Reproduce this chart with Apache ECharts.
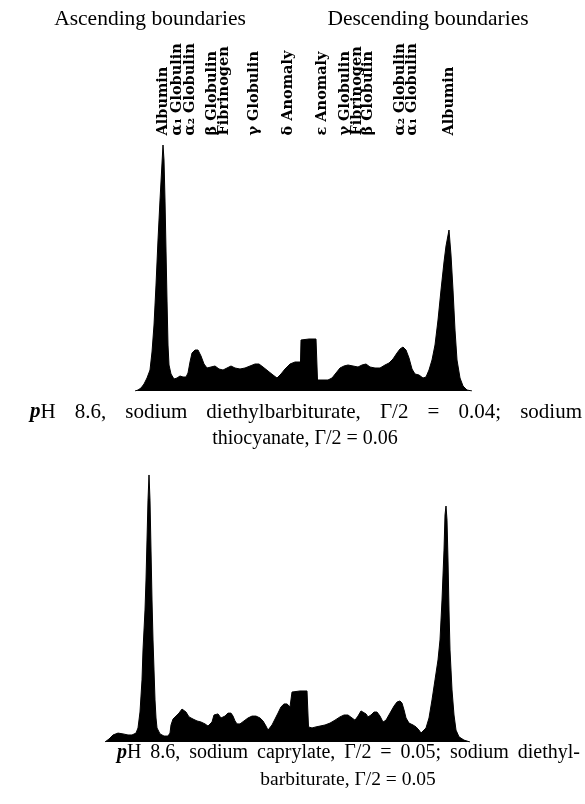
<!DOCTYPE html>
<html><head><meta charset="utf-8">
<script src="https://cdn.jsdelivr.net/npm/echarts@6/dist/echarts.min.js"></script>
<style>html,body{margin:0;padding:0;background:#fff}#c{width:585px;height:804px}</style>
</head><body><div id="c"></div>
<script>
// ---- data ----
const headers = ['Ascending boundaries', 'Descending boundaries'];
const boundaryLabels = ['Albumin', 'α₁ Globulin', 'α₂ Globulin', 'β Globulin', 'Fibrinogen', 'γ Globulin', 'δ Anomaly',
  'ε Anomaly', 'γ Globulin', 'Fibrinogen', 'β Globulin', 'α₂ Globulin', 'α₁ Globulin', 'Albumin'];
const boundaryPositions = [63, 77, 90, 112, 124, 154, 188, 222, 245, 257, 268, 300, 312, 349];

// pattern 1: distance along cell and refractive-index gradient height
const dist1 = [35,38,41,44,47,50,52,54,56,58,60,62,63,64,65,66,67,68,69,71,74,77,80,83,86,88,90,92,95,98,101,104,107,111,115,119,123,127,131,135,140,145,150,155,159,163,168,173,177,181,185,190,195,200.5,201,203,209,216,217,217.5,222,228,232,236,240,244,248,253,258,262,266,270,275,280,285,289,293,297,300,303,306,309,312,315,319,323,326,329,332,335,338,341,344,346,349,351,353,355,357,360,363,367,372];
const grad1 = [0,0.4,1.2,2.8,5.2,8.4,15.6,26.4,42.4,60.4,76.4,91.2,98.4,92.4,76.4,56.4,36.4,18.4,10.4,6.8,4.8,5.2,6,5.6,5.6,7.2,11.6,15.2,16.4,16.4,14,10.8,9.2,9.6,10,8.8,8.4,9.2,10,9.2,8.8,9.2,10,10.8,10.8,9.6,8,6.4,5.2,6.8,8.8,10.8,11.6,11.6,20.4,20.8,20.8,20.8,20.4,4.4,4.4,4.4,5.2,7.2,9.2,10,10.4,10,9.6,10.4,10.8,9.6,9.2,9.2,10.4,11.2,12.8,15.2,16.8,17.6,16.4,13.2,8.8,6.8,6.4,5.2,5.6,8.4,12.4,18.4,28.4,40.4,51.6,58,64.4,54.4,40.4,24.4,12.4,5.2,2,0.4,0];

// pattern 2
const dist2 = [5,9,13,18,23,28,32,36,38,40,42,43,45,46,47,48,49,50,51,52,53,54,55,56,57,60,64,68,70,71,73,76,79,82,84,86,89,93,97,101,105,108,110,112,114,116,118,121,123,125,128,131,133,135,137,140,144,148,152,156,160,163,166,168,170,172,175,178,181,184,187,190,191.5,192,194,200,207,208,208.5,212,216,220,225,230,235,240,244,248,252,255,258,261,263,266,268,271,274,277,280,283,286,290,294,297,300,302,304,306,309,313,316,319,321,323,326,329,332,335,338,340,342,344,345,346,347,348,349,350,352,354,356,359,364,370];
const grad2 = [0,1.1,2.6,3.3,3,2.6,2.6,3.3,5.2,11.1,23,34.1,48.9,60,74.8,89.6,98.9,89.6,71.1,52.6,37.8,26.7,15.6,8.9,5.2,3,2.2,2.2,3.3,6.3,8.5,9.6,10.7,12.2,12.2,11.1,9.3,8.5,7.8,7.4,6.7,5.9,5.6,7.4,10,10.7,10.4,8.9,8.5,9.6,10.7,10.7,9.6,7.8,6.7,6.7,7.8,8.9,9.6,9.6,8.9,7.8,5.9,4.4,4.8,6.3,8.5,10.7,13,14.1,14.1,13,13,18.5,18.9,18.9,18.9,18.5,5.6,5.2,5.6,5.9,6.3,7,8.1,9.3,10,10,8.9,8.1,9.6,11.5,11.5,10.4,9.3,10,11.1,11.1,9.6,7.4,8.1,10.7,13.3,14.8,15.2,14.4,11.9,8.9,7,6.3,5.6,4.4,3.3,3.3,5.2,8.9,15.6,23,30.4,37.8,52.6,71.1,84.1,87.4,82.2,67.4,48.9,34.1,19.3,10,4.4,1.9,0.7,0];

const caption1 = ['pH 8.6, sodium diethylbarbiturate, Γ/2 = 0.04; sodium', 'thiocyanate, Γ/2 = 0.06'];
const caption2 = ['pH 8.6, sodium caprylate, Γ/2 = 0.05; sodium diethyl-', 'barbiturate, Γ/2 = 0.05'];

// ---- helpers ----
const serifName = '"Liberation Serif"';
const serif = serifName + ', "DejaVu Serif", serif';
const zip = (a, b) => a.map((v, i) => [v, b[i]]);
const mctx = document.createElement('canvas').getContext('2d');
function wordWidth(w, size) {
  if (w.indexOf('pH') === 0) {
    mctx.font = 'italic bold ' + size + 'px ' + serifName;
    const pw = mctx.measureText('p').width;
    mctx.font = size + 'px ' + serifName;
    return pw + mctx.measureText(w.slice(1)).width;
  }
  mctx.font = size + 'px ' + serifName;
  return mctx.measureText(w).width;
}
const tok = (w) => w.indexOf('pH') === 0 ? '{i|p}' + w.slice(1) : w;
// justified line: words spread across targetWidth
function justifiedText(str, size, left, y, targetWidth) {
  const words = str.split(' ');
  const total = words.reduce((s, w) => s + wordWidth(w, size), 0);
  const gap = (targetWidth - total) / (words.length - 1);
  return {type: 'text', x: left, y: y,
    style: {text: words.map(tok).join('{g| }'), fill: '#000', font: size + 'px ' + serif,
      textAlign: 'left', textVerticalAlign: 'middle',
      rich: {i: {fontStyle: 'italic', fontWeight: 'bold', fontSize: size, fontFamily: serif},
             g: {width: gap, fontSize: size, fontFamily: serif}}}};
}
function centeredText(str, size, x, y) {
  return {type: 'text', x: x, y: y,
    style: {text: str.split(' ').map(tok).join(' '), fill: '#000', font: size + 'px ' + serif,
      textAlign: 'center', textVerticalAlign: 'middle',
      rich: {i: {fontStyle: 'italic', fontWeight: 'bold', fontSize: size, fontFamily: serif}}}};
}

// ---- chart ----
const chart = echarts.init(document.getElementById('c'), null, {renderer: 'canvas'});
const hiddenX = (grid) => ({type: 'value', gridIndex: grid, min: 0, max: 380, show: false});
const hiddenY = (grid) => ({type: 'value', gridIndex: grid, min: 0, max: 100, show: false});
const areaSeries = (xi, yi, d) => ({
  type: 'line', xAxisIndex: xi, yAxisIndex: yi, data: d, showSymbol: false, smooth: false,
  lineStyle: {color: '#000', width: 1}, areaStyle: {color: '#000', opacity: 1}, animation: false, silent: true
});

chart.setOption({
  animation: false,
  backgroundColor: '#fff',
  grid: [
    {left: 100, width: 380, top: 141, height: 250},
    {left: 100, width: 380, top: 472, height: 270}
  ],
  xAxis: [hiddenX(0), hiddenX(1)],
  yAxis: [hiddenY(0), hiddenY(1)],
  series: [
    areaSeries(0, 0, zip(dist1, grad1)),
    areaSeries(1, 1, zip(dist2, grad2)),
    {
      // boundary names, written upward from the top edge of the upper pattern
      type: 'scatter', xAxisIndex: 0, yAxisIndex: 0, silent: true, clip: false,
      data: boundaryPositions.map((p) => [p, 100]),
      symbolSize: 1, itemStyle: {color: 'transparent'},
      label: {show: true, position: 'top', distance: 5, rotate: 90, align: 'left', verticalAlign: 'middle',
        formatter: (p) => boundaryLabels[p.dataIndex], opacity: 1, textBorderWidth: 0,
        fontFamily: '"DejaVu Serif", serif', fontWeight: 'bold', fontSize: 14.5, color: '#000'},
      labelLayout: {hideOverlap: false}
    }
  ],
  graphic: [
    {type: 'text', x: 150, y: 19, style: {text: headers[0], fill: '#000', font: '21.5px ' + serif, textAlign: 'center', textVerticalAlign: 'middle'}},
    {type: 'text', x: 428, y: 19, style: {text: headers[1], fill: '#000', font: '21.5px ' + serif, textAlign: 'center', textVerticalAlign: 'middle'}},
    justifiedText(caption1[0], 21, 30, 412, 552),
    centeredText(caption1[1], 20, 305, 439),
    justifiedText(caption2[0], 20, 117, 753, 463),
    centeredText(caption2[1], 19.5, 348, 780)
  ]
});
</script></body></html>
